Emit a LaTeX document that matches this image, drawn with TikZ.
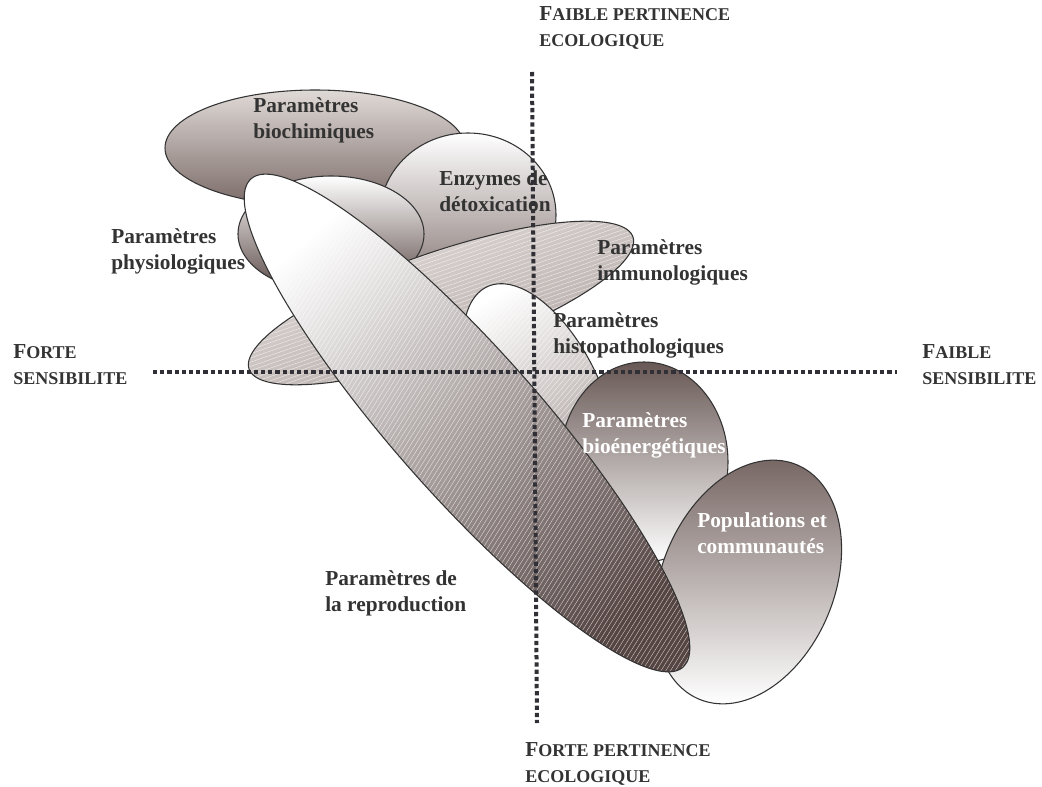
\documentclass[tikz,border=0pt]{standalone}
\usepackage{fontspec}
\setmainfont{Liberation Serif}
\definecolor{txt}{HTML}{333333}
\definecolor{edge}{HTML}{333333}
\definecolor{axisc}{HTML}{303036}
\definecolor{biTop}{HTML}{E0DAD7}
\definecolor{biBot}{HTML}{7A6A67}
\definecolor{enBot}{HTML}{7E6E6B}
\definecolor{phBot}{HTML}{5A4946}
\definecolor{imTop}{HTML}{E6E1DF}
\definecolor{imBot}{HTML}{B0A5A2}
\definecolor{hiBot}{HTML}{A09491}
\definecolor{boTop}{HTML}{685855}
\definecolor{boMid}{HTML}{B8AEAB}
\definecolor{poTop}{HTML}{786865}
\definecolor{poMid}{HTML}{C2B9B7}
\definecolor{reMid}{HTML}{B3A9A6}
\definecolor{reBot}{HTML}{544442}
\newcommand\scx[2]{#1{\fontsize{13.5}{19.5}\selectfont #2}}
% hatch lines: angle, c-min, c-max, step
\newcommand\hatchlines[4]{%
  \foreach \c in {#2,\the\numexpr#2+#4\relax,...,#3}{%
    \draw[hatchline] ({\c*sin(#1)-700*cos(#1)},{\c*cos(#1)+700*sin(#1)}) --
                     ({\c*sin(#1)+700*cos(#1)},{\c*cos(#1)-700*sin(#1)});}}
\begin{document}
\begin{tikzpicture}[x=0.75pt,y=-0.75pt,line join=round]
\tikzset{
  outl/.style={draw=edge,line width=0.8pt},
  hatchline/.style={draw=white,line width=0.3pt,draw opacity=0.7},
  lbl/.style={font=\fontsize{16}{19.5}\selectfont\bfseries,text=txt,align=left,anchor=base west,inner sep=0pt},
  lblw/.style={lbl,text=white},
  axisline/.style={line width=3pt,dash pattern=on 3.2pt off 2.2pt,draw=axisc}
}
\useasboundingbox (0,0) rectangle (1042,787);

% Parametres biochimiques
\shade[top color=biTop,bottom color=biBot] (315,148) ellipse [x radius=150,y radius=58];
\draw[outl] (315,148) ellipse [x radius=150,y radius=58];
% Enzymes de detoxication
\shade[top color=white,bottom color=enBot] (468,215) ellipse [x radius=88,y radius=82];
\draw[outl] (468,215) ellipse [x radius=88,y radius=82];
% Parametres physiologiques
\shade[top color=white,bottom color=phBot] (331,234) ellipse [x radius=93,y radius=58];
\draw[outl] (331,234) ellipse [x radius=93,y radius=58];
% Parametres immunologiques
\begin{scope}
\clip plot[domain=0:355,samples=72,smooth cycle]
  ({441+203*cos(\x)*cos(-19)-51*sin(\x)*sin(-19)},{303+203*cos(\x)*sin(-19)+51*sin(\x)*cos(-19)});
\shade[top color=imTop,bottom color=imBot,shading angle=20] (230,200) rectangle (650,400);
\hatchlines{19}{280}{580}{4}
\end{scope}
\draw[outl]
  plot[domain=0:355,samples=72,smooth cycle]
  ({441+203*cos(\x)*cos(-19)-51*sin(\x)*sin(-19)},{303+203*cos(\x)*sin(-19)+51*sin(\x)*cos(-19)});
% Parametres histopathologiques
\begin{scope}
\clip plot[domain=0:355,samples=72,smooth cycle]
  ({540+62*cos(\x)*cos(-25)-125*sin(\x)*sin(-25)},{400+62*cos(\x)*sin(-25)+125*sin(\x)*cos(-25)});
\shade[top color=white,bottom color=hiBot,shading angle=30] (455,270) rectangle (615,530);
\hatchlines{50}{528}{804}{4}
\end{scope}
\draw[outl]
  plot[domain=0:355,samples=72,smooth cycle]
  ({540+62*cos(\x)*cos(-25)-125*sin(\x)*sin(-25)},{400+62*cos(\x)*sin(-25)+125*sin(\x)*cos(-25)});
% Parametres bioenergetiques
\shade[top color=boTop,middle color=boMid,bottom color=white] (644,462) ellipse [x radius=84,y radius=100];
\draw[outl] (644,462) ellipse [x radius=84,y radius=100];
% Populations et communautes
\shade[top color=poTop,middle color=poMid,bottom color=white]
  plot[domain=0:355,samples=72,smooth cycle]
  ({748+86.5*cos(\x)*cos(22.6)-127*sin(\x)*sin(22.6)},{582+86.5*cos(\x)*sin(22.6)+127*sin(\x)*cos(22.6)});
\draw[outl]
  plot[domain=0:355,samples=72,smooth cycle]
  ({748+86.5*cos(\x)*cos(22.6)-127*sin(\x)*sin(22.6)},{582+86.5*cos(\x)*sin(22.6)+127*sin(\x)*cos(22.6)});
% Parametres de la reproduction
\begin{scope}
\clip plot[domain=0:355,samples=90,smooth cycle]
  ({467+326*cos(\x)*cos(48.5)-73*sin(\x)*sin(48.5)},{423+326*cos(\x)*sin(48.5)+73*sin(\x)*cos(48.5)});
\shade[top color=white,middle color=reMid,bottom color=reBot,shading angle=41.5] (235,165) rectangle (700,690);
\hatchlines{58}{288}{956}{4}
\end{scope}
\draw[outl]
  plot[domain=0:355,samples=90,smooth cycle]
  ({467+326*cos(\x)*cos(48.5)-73*sin(\x)*sin(48.5)},{423+326*cos(\x)*sin(48.5)+73*sin(\x)*cos(48.5)});

% labels (anchor = baseline of the last line)
\node[lbl] (tbio) at (253,139) {Paramètres\\biochimiques};
\node[lbl] (tenz) at (439,212) {Enzymes de\\détoxication};
\node[lbl] (tphy) at (111,270) {Paramètres\\physiologiques};
\node[lbl] (timm) at (597,281) {Paramètres\\immunologiques};
\node[lbl] (this) at (553,354) {Paramètres\\histopathologiques};
\node[lblw] (tben) at (582,454) {Paramètres\\bioénergétiques};
\node[lblw] (tpop) at (697,553) {Populations et\\communautés};
\node[lbl] (trep) at (325,611) {Paramètres de\\la reproduction};

\node[lbl] (fs) at (13,385) {\scx{F}{ORTE}\\\scx{}{SENSIBILITE}};
\node[lbl] (ls) at (922,385) {\scx{F}{AIBLE}\\\scx{}{SENSIBILITE}};
\node[lbl] (lp) at (539,47) {\scx{F}{AIBLE PERTINENCE}\\\scx{}{ECOLOGIQUE}};
\node[lbl] (hp) at (525,782) {\scx{F}{ORTE PERTINENCE}\\\scx{}{ECOLOGIQUE}};

% axes
\coordinate (hL) at (153,372);
\coordinate (hR) at (897,372);
\coordinate (vT) at (532,72);
\coordinate (vB) at (537,723);
\draw[axisline] (hL) -- (hR);
\draw[axisline] (vT) -- (vB);
\end{tikzpicture}
\end{document}
